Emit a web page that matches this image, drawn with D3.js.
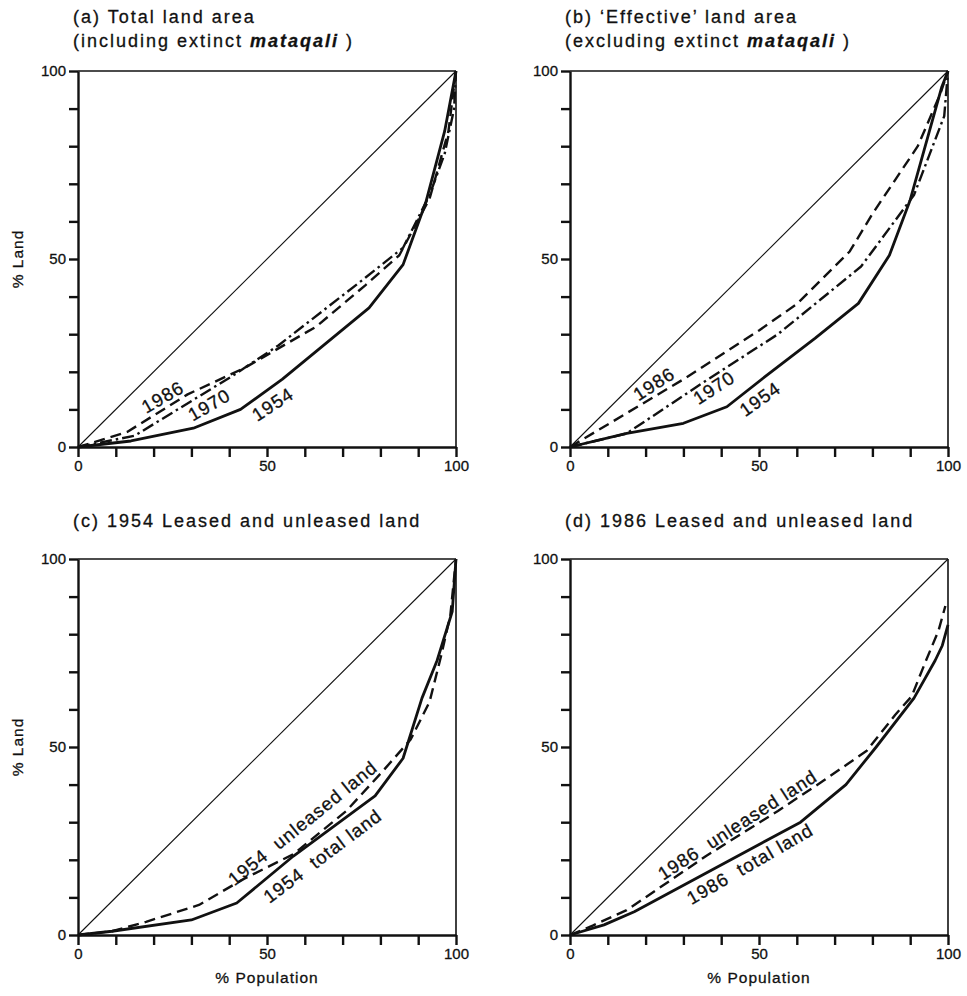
<!DOCTYPE html>
<html>
<head>
<meta charset="utf-8">
<script src="https://cdn.jsdelivr.net/npm/d3@7"></script>
<style>
  body { margin: 0; background: #fff; }
  text { font-family: "Liberation Sans", Arial, sans-serif; fill: #111; stroke: #111; stroke-width: 0.3px; }
</style>
</head>
<body>
<script>
// tick values (both axes, all panels)
var tickValues = [0, 10, 20, 30, 40, 50, 60, 70, 80, 90, 100];
var tickLabels = [0, 50, 100];

// Lorenz curves: [% population, % land]
// (a) total land area
var a1954 = [[0,0],[14,1.6],[30.5,5],[43,10],[54,18],[77,37],[86,48.5],[92,65],[97,84],[100,100]];
var a1970 = [[0,0],[15,3],[41,19],[53,27],[76,45],[86,53],[93,67],[97,78],[99.5,90],[100,100]];
var a1986 = [[0,0],[13,4],[29,14],[44,21],[63,32],[76,43],[85,51],[93,66],[98,84],[100,100]];
// (b) 'effective' land area
var b1954 = [[0,0],[15,3.6],[30,6.3],[41.5,10.7],[51.6,18.7],[64.8,28.9],[76.3,38.2],[84.5,51],[90,65.7],[98.3,95.6],[100,100]];
var b1970 = [[0,0],[15,3.6],[35,17],[55,30],[77,48],[91,67],[99,88],[100,100]];
var b1986 = [[0,0],[10,6],[30,18],[50,31],[60,38],[74,52],[80,62],[92,80],[98,94],[100,100]];
// (c) 1954 leased and unleased
var c1954total = [[0,0],[9,1],[30,4],[42,8.5],[57,21],[78.6,37],[86,47],[91,63],[95,73],[99,86],[100,100]];
var c1954unleased = [[0,0],[9,1],[18,3.5],[32,8],[44,15],[57,21.5],[71,33],[81,44],[88,52],[93,62],[96,74],[98.5,85],[100,100]];
// (d) 1986 leased and unleased
var d1986total = [[0,0],[9,2.7],[17,6.2],[61,30],[73,40],[81,50],[91,63],[96.6,73],[98.5,77],[100,82.5]];
var d1986unleased = [[0,0],[6,2.5],[15,6.6],[36,21],[55,33],[67,41],[78.5,49],[86,58.5],[90.4,63.5],[93.9,72.3],[97.5,81],[99.3,87.5]];

var equality = [[0,0],[100,100]];

var panels = [
  {left: 78, top: 71, yTitle: true, xTitle: false,
   title: [["(a) Total land area"], ["(including extinct ", "mataqali", " )"]],
   series: [{d: a1954, s: "solid"}, {d: a1970, s: "dashdot"}, {d: a1986, s: "dash"}],
   labels: [{t: "1986", x: 22.4, y: 13.3, r: -30}, {t: "1970", x: 34.7, y: 11.2, r: -30}, {t: "1954", x: 51.5, y: 11.4, r: -33}]},
  {left: 570, top: 71, yTitle: false, xTitle: false,
   title: [["(b) \u2018Effective\u2019 land area"], ["(excluding extinct ", "mataqali", " )"]],
   series: [{d: b1954, s: "solid"}, {d: b1970, s: "dashdot"}, {d: b1986, s: "dash"}],
   labels: [{t: "1986", x: 22.2, y: 16.8, r: -33}, {t: "1970", x: 38.1, y: 15.8, r: -33}, {t: "1954", x: 50.3, y: 12.8, r: -35}]},
  {left: 78, top: 559, yTitle: true, xTitle: true,
   title: [["(c) 1954 Leased and unleased land"]],
   series: [{d: c1954total, s: "solid"}, {d: c1954unleased, s: "dash"}],
   labels: [{t: "1954  unleased land", x: 59.4, y: 29.8, r: -39}, {t: "1954  total land", x: 64.7, y: 21, r: -37}]},
  {left: 570, top: 559, yTitle: false, xTitle: true,
   title: [["(d) 1986 Leased and unleased land"]],
   series: [{d: d1986total, s: "solid"}, {d: d1986unleased, s: "dash"}],
   labels: [{t: "1986  unleased land", x: 44.3, y: 29.3, r: -33}, {t: "1986  total land", x: 47.6, y: 18.9, r: -30}]}
];

var width = 378, height = 376;

var styles = {
  solid:   {w: 2.8, dash: null},
  dash:    {w: 2.4, dash: "11,6"},
  dashdot: {w: 2.4, dash: "12,4,2.5,4"}
};

var svg = d3.select("body").append("svg")
    .attr("width", 967)
    .attr("height", 996);

panels.forEach(function(p) {
  var x = d3.scaleLinear().domain([0, 100]).range([0, width]);
  var y = d3.scaleLinear().domain([0, 100]).range([height, 0]);

  var g = svg.append("g")
      .attr("transform", "translate(" + p.left + "," + p.top + ")");

  // title
  var nLines = p.title.length;
  p.title.forEach(function(line, i) {
    var t = g.append("text")
        .attr("x", -5)
        .attr("y", nLines == 2 ? -48 + i * 24 : -32)
        .attr("font-size", "18px")
        .attr("letter-spacing", "2px");
    line.forEach(function(part, j) {
      t.append("tspan")
          .style("font-style", j == 1 ? "italic" : "normal")
          .style("font-weight", j == 1 ? "bold" : "normal")
          .text(part);
    });
  });

  // frame: top and right
  g.append("line").attr("x1", 0).attr("x2", width).attr("y1", 0).attr("y2", 0)
      .attr("stroke", "#111").attr("stroke-width", 1.4);
  g.append("line").attr("x1", width).attr("x2", width).attr("y1", 0).attr("y2", height)
      .attr("stroke", "#111").attr("stroke-width", 1.6);

  // axes with outward ticks
  var fmt = function(d) { return tickLabels.indexOf(d) >= 0 ? d : ""; };
  var xAxis = g.append("g")
      .attr("transform", "translate(0," + height + ")")
      .call(d3.axisBottom(x).tickValues(tickValues).tickSizeInner(10).tickSizeOuter(0).tickPadding(3).tickFormat(fmt));
  var yAxis = g.append("g")
      .call(d3.axisLeft(y).tickValues(tickValues).tickSizeInner(9).tickSizeOuter(0).tickPadding(3).tickFormat(fmt));
  [xAxis, yAxis].forEach(function(ax) {
    ax.select(".domain").attr("stroke", "#111").attr("stroke-width", 2.4);
    ax.selectAll(".tick line").style("stroke", "#111").style("stroke-width", "2.4px");
    ax.selectAll(".tick text")
        .attr("font-size", "15px")
        .attr("font-family", "Liberation Sans, Arial, sans-serif")
        .attr("fill", "#111");
  });

  // line of equality
  var line = d3.line()
      .x(function(d) { return x(d[0]); })
      .y(function(d) { return y(d[1]); });

  g.append("path")
      .datum(equality)
      .attr("d", line)
      .attr("fill", "none")
      .attr("stroke", "#111")
      .attr("stroke-width", 1.1);

  // curves
  p.series.forEach(function(s) {
    var st = styles[s.s];
    g.append("path")
        .datum(s.d)
        .attr("d", line)
        .attr("fill", "none")
        .attr("stroke", "#111")
        .attr("stroke-width", st.w)
        .attr("stroke-linejoin", "round")
        .attr("stroke-dasharray", st.dash);
  });

  // curve labels
  p.labels.forEach(function(l) {
    g.append("text")
        .attr("transform", "translate(" + x(l.x) + "," + y(l.y) + ") rotate(" + l.r + ")")
        .attr("text-anchor", "middle")
        .attr("dominant-baseline", "central")
        .attr("font-size", "18.5px")
        .attr("letter-spacing", "1px")
        .style("white-space", "pre")
        .text(l.t);
  });

  // axis titles
  if (p.yTitle) {
    g.append("text")
        .attr("transform", "translate(-55," + (height / 2) + ") rotate(-90)")
        .attr("text-anchor", "middle")
        .attr("font-size", "15.5px")
        .attr("letter-spacing", "1px")
        .text("% Land");
  }
  if (p.xTitle) {
    g.append("text")
        .attr("x", width / 2)
        .attr("y", height + 48)
        .attr("text-anchor", "middle")
        .attr("font-size", "15.5px")
        .attr("letter-spacing", "1px")
        .text("% Population");
  }
});
</script>
</body>
</html>
